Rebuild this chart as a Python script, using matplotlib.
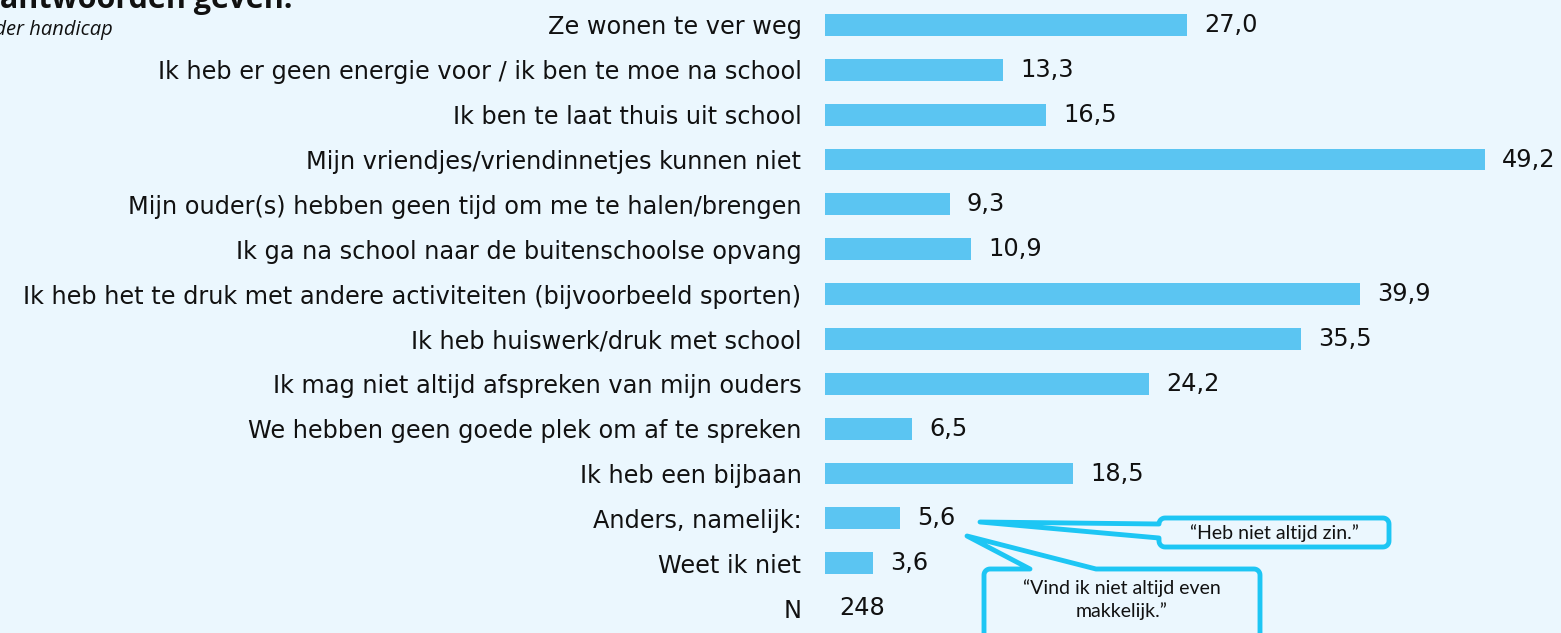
import numpy as np
import matplotlib
matplotlib.use("Agg")
import matplotlib.pyplot as plt
from matplotlib.patches import Polygon

# Data
categories = [
    "Ze wonen te ver weg",
    "Ik heb er geen energie voor / ik ben te moe na school",
    "Ik ben te laat thuis uit school",
    "Mijn vriendjes/vriendinnetjes kunnen niet",
    "Mijn ouder(s) hebben geen tijd om me te halen/brengen",
    "Ik ga na school naar de buitenschoolse opvang",
    "Ik heb het te druk met andere activiteiten (bijvoorbeeld sporten)",
    "Ik heb huiswerk/druk met school",
    "Ik mag niet altijd afspreken van mijn ouders",
    "We hebben geen goede plek om af te spreken",
    "Ik heb een bijbaan",
    "Anders, namelijk:",
    "Weet ik niet",
]
values = [27.0, 13.3, 16.5, 49.2, 9.3, 10.9, 39.9, 35.5, 24.2, 6.5, 18.5, 5.6, 3.6]
n_label = "N"
n_value = 248
quotes = ["\u201cHeb niet altijd zin.\u201d",
          "\u201cVind ik niet altijd even\nmakkelijk.\u201d"]

BG = "#EBF7FE"
BAR = "#5BC5F2"
EDGE = "#1DC6F4"
W, H = 1561, 633
FS = 17.3

fig = plt.figure(figsize=(W / 100, H / 100), dpi=100, facecolor=BG)
ax = fig.add_axes([825 / W, 2.5 / H, 1 - 825 / W, 628 / H])
ax.set_facecolor(BG)

rows = np.arange(len(categories))
ax.barh(rows, values, height=0.49, color=BAR)
for y, v in zip(rows, values):
    ax.text(v + 1.27, y, f"{v:.1f}".replace(".", ","), va="center", ha="left",
            fontsize=FS, color="#111111")
ax.text(1.1, len(categories), str(n_value), va="center", ha="left",
        fontsize=FS, color="#111111")

ax.set_yticks(list(rows) + [len(categories)])
ax.set_yticklabels(categories + [n_label], fontsize=FS, color="#111111")
ax.tick_params(axis="y", length=0, pad=17)
ax.set_xticks([])
ax.set_xlim(0, 54.9)
ax.set_ylim(len(categories) + 0.5, -0.5)
for s in ax.spines.values():
    s.set_visible(False)

# Title fragments (cropped in the original)
fig.text(292 / W, 1 - 8 / H, "Kinderen konden meerdere antwoorden geven.",
         ha="right", va="baseline", fontsize=22, fontweight="bold",
         family="Open Sans", color="#111111")
fig.text(113 / W, 1 - 30 / H, "Kinderen zonder handicap", ha="right",
         va="center", fontsize=14.5, style="italic", family="Open Sans",
         color="#111111")


def rounded_rect(x0, y0, x1, y1, r, n=8):
    # points going clockwise in pixel coords (y down), starting top-left
    pts = []
    corners = [(x0 + r, y0 + r, 180, 270), (x1 - r, y0 + r, 270, 360),
               (x1 - r, y1 - r, 0, 90), (x0 + r, y1 - r, 90, 180)]
    for cx, cy, a0, a1 in corners:
        for a in np.linspace(np.radians(a0), np.radians(a1), n):
            pts.append((cx + r * np.cos(a), cy + r * np.sin(a)))
    return pts


def to_fig(pts):
    return [(x / W, 1 - y / H) for x, y in pts]


# Callout 1: tail on left side
x0, y0, x1, y1 = 1159, 518, 1389, 547
box = rounded_rect(x0, y0, x1, y1, 6)
pts1 = box + [(x0, 538), (980, 522), (x0, 524)]
fig.patches.append(Polygon(to_fig(pts1), closed=True, facecolor=BG,
                           edgecolor=EDGE, linewidth=3.5, joinstyle="round",
                           transform=fig.transFigure, figure=fig))
fig.text((x0 + x1) / 2 / W, 1 - 533 / H, quotes[0], ha="center", va="center",
         fontsize=14, family="Lato", color="#111111")

# Callout 2: tail on top side
x0, y0, x1, y1 = 984, 569, 1260, 650
box = rounded_rect(x0, y0, x1, y1, 6)
n = 8
pts2 = box[:n] + [(1030, y0), (967, 536), (1096, y0)] + box[n:]
fig.patches.append(Polygon(to_fig(pts2), closed=True, facecolor=BG,
                           edgecolor=EDGE, linewidth=3.5, joinstyle="round",
                           transform=fig.transFigure, figure=fig))
fig.text((x0 + x1) / 2 / W, 1 - 600 / H, quotes[1], ha="center",
         va="center", fontsize=14, family="Lato", color="#111111",
         linespacing=1.35)

fig.savefig("out.png", dpi=100, facecolor=BG)
